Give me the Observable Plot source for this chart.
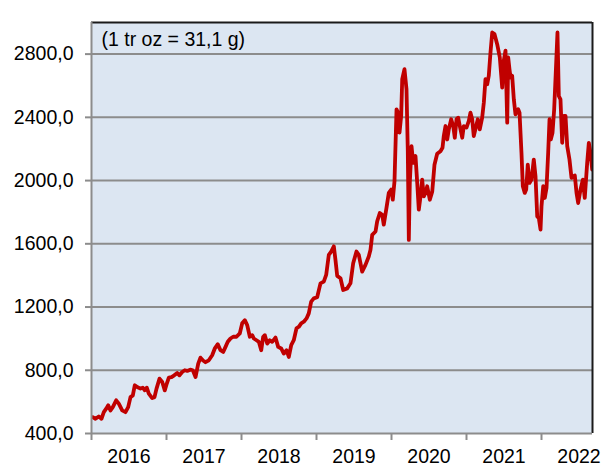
<!DOCTYPE html>
<html>
<head>
<meta charset="utf-8">
<script src="https://cdn.jsdelivr.net/npm/d3@7"></script>
<script src="https://cdn.jsdelivr.net/npm/@observablehq/plot@0.6"></script>
<style>
  html, body { margin: 0; padding: 0; background: #ffffff; }
  #chart svg { display: block; }
</style>
</head>
<body>
<div id="chart"></div>
<script>
// Time as decimal year, price (USD per troy ounce)
const times = [
  2016.017,2016.053,2016.097,2016.133,2016.164,2016.196,2016.223,2016.253,2016.284,2016.329,
  2016.364,2016.409,2016.453,2016.489,2016.520,2016.551,2016.577,2016.609,2016.653,2016.684,
  2016.711,2016.737,2016.764,2016.809,2016.840,2016.867,2016.907,2016.943,2016.977,2017.004,
  2017.031,2017.067,2017.103,2017.143,2017.173,2017.209,2017.244,2017.276,2017.316,2017.351,
  2017.387,2017.423,2017.453,2017.484,2017.520,2017.564,2017.609,2017.644,2017.684,2017.720,
  2017.756,2017.787,2017.817,2017.853,2017.889,2017.933,2017.977,2018.009,2018.044,2018.076,
  2018.111,2018.143,2018.164,2018.200,2018.231,2018.263,2018.289,2018.311,2018.343,2018.377,
  2018.409,2018.453,2018.489,2018.529,2018.564,2018.600,2018.631,2018.663,2018.697,2018.733,
  2018.764,2018.796,2018.831,2018.867,2018.897,2018.929,2018.964,2019.009,2019.053,2019.097,
  2019.129,2019.164,2019.196,2019.231,2019.253,2019.276,2019.320,2019.356,2019.409,2019.453,
  2019.489,2019.533,2019.564,2019.609,2019.653,2019.697,2019.720,2019.743,2019.787,2019.809,
  2019.844,2019.876,2019.897,2019.933,2019.964,2019.996,2020.017,2020.040,2020.067,2020.089,
  2020.107,2020.129,2020.143,2020.173,2020.200,2020.217,2020.231,2020.244,2020.267,2020.289,
  2020.320,2020.343,2020.364,2020.387,2020.409,2020.431,2020.453,2020.476,2020.511,2020.543,
  2020.573,2020.609,2020.653,2020.680,2020.697,2020.720,2020.743,2020.764,2020.796,2020.823,
  2020.844,2020.867,2020.889,2020.911,2020.943,2020.964,2021.000,2021.031,2021.053,2021.076,
  2021.097,2021.129,2021.151,2021.177,2021.209,2021.231,2021.253,2021.276,2021.297,2021.320,
  2021.343,2021.373,2021.409,2021.444,2021.476,2021.497,2021.520,2021.543,2021.556,2021.573,
  2021.587,2021.609,2021.631,2021.653,2021.689,2021.707,2021.733,2021.751,2021.777,2021.796,
  2021.817,2021.840,2021.867,2021.897,2021.920,2021.943,2021.964,2021.987,2022.000,2022.023,
  2022.044,2022.067,2022.089,2022.107,2022.124,2022.147,2022.169,2022.196,2022.213,2022.231,
  2022.253,2022.276,2022.297,2022.320,2022.343,2022.373,2022.400,2022.423,2022.444,2022.467,
  2022.489,2022.520,2022.551,2022.577,2022.609,2022.631,2022.653,2022.676
];
const prices = [
  503,493,508,493,535,557,578,546,567,610,
  589,546,535,567,630,641,705,694,684,690,
  673,690,652,624,630,684,747,726,673,716,
  754,757,768,783,768,789,800,796,804,800,
  757,842,880,863,851,863,895,938,965,927,
  916,948,980,1001,1012,1012,1033,1097,1117,1086,
  1012,1022,1001,990,980,927,1012,1022,969,990,
  980,1007,948,938,906,927,884,959,990,1065,
  1075,1097,1107,1128,1160,1234,1255,1262,1350,1361,
  1403,1530,1551,1584,1498,1397,1382,1308,1318,1350,
  1477,1551,1530,1424,1467,1520,1562,1657,1678,1742,
  1795,1784,1721,1827,1922,1943,1879,1996,2451,2429,
  2303,2409,2641,2705,2578,2197,1625,1985,2218,2112,
  2155,1985,1816,1900,2006,1900,1922,1964,1879,1930,
  2100,2170,2186,2207,2282,2345,2260,2324,2388,2345,
  2271,2388,2398,2345,2271,2345,2335,2377,2430,2388,
  2282,2345,2388,2324,2398,2493,2641,2609,2663,2811,
  2937,2927,2863,2779,2588,2757,2822,2366,2779,2705,
  2652,2663,2514,2419,2451,2430,2176,1964,1922,1943,
  2101,1985,2006,2133,2028,1773,1763,1690,1837,1964,
  1890,1954,2176,2388,2260,2303,2451,2747,2937,2535,
  2514,2239,2409,2409,2218,2133,2017,2028,2032,1922,
  1858,1943,2006,1890,2112,2239,2176,2070
];
const yearTicks = [2016, 2017, 2018, 2019, 2020, 2021, 2022];
const yearLabels = ["2016", "2017", "2018", "2019", "2020", "2021", "2022"];
const yTicks = [400, 800, 1200, 1600, 2000, 2400, 2800];
const note = "(1 tr oz = 31,1 g)";

const data = times.map((t, i) => ({t, v: prices[i]}));
const xMin = 2016, xMax = 2022.68, yMin = 400, yMax = 3000;
const gridLines = yTicks.filter(d => d > yMin);
const labelPos = yearTicks.map(d => d + 0.5);

const chart = Plot.plot({
  width: 612,
  height: 467,
  marginLeft: 91,
  marginRight: 20,
  marginTop: 22,
  marginBottom: 34,
  style: {fontFamily: "'Liberation Sans', Arial, sans-serif", fontSize: "19.5px", color: "#000", background: "#fff"},
  x: {type: "linear", domain: [xMin, xMax], axis: null},
  y: {type: "linear", domain: [yMin, yMax], axis: null},
  marks: [
    Plot.rect([{}], {x1: xMin, x2: xMax, y1: yMin, y2: yMax, fill: "#dce6f2"}),
    Plot.ruleY(gridLines, {stroke: "#8c8c8c", strokeWidth: 2}),
    Plot.line(data, {x: "t", y: "v", stroke: "#c00000", strokeWidth: 3.8, strokeLinejoin: "round", strokeLinecap: "round", clip: true}),
    // top & right borders
    Plot.ruleY([yMax], {stroke: "#1a1a1a", strokeWidth: 2}),
    Plot.ruleX([xMax], {stroke: "#1a1a1a", strokeWidth: 2}),
    // left axis
    Plot.ruleX([xMin], {y1: yMin, y2: yMax, stroke: "#8c8c8c", strokeWidth: 2}),
    Plot.axisY(yTicks, {label: null, tickSize: 6, tickPadding: 12, stroke: "#8c8c8c", strokeWidth: 2, tickFormat: d => d.toFixed(1).replace(".", ","), fill: "#000", fontSize: 19.5}),
    // bottom axis
    Plot.ruleY([yMin], {stroke: "#8c8c8c", strokeWidth: 2}),
    Plot.axisX(yearTicks, {label: null, tickSize: 7, stroke: "#8c8c8c", strokeWidth: 2, tickFormat: () => ""}),
    Plot.text(labelPos, {x: d => d, y: yMin, text: (d, i) => yearLabels[i], dy: 23, fill: "#000", fontSize: 19.5, textAnchor: "middle"}),
    Plot.text([note], {x: xMin, y: yMax, text: d => d, dx: 10, dy: 17, textAnchor: "start", fill: "#000", fontSize: 19.5})
  ]
});
document.getElementById("chart").appendChild(chart);
</script>
</body>
</html>
